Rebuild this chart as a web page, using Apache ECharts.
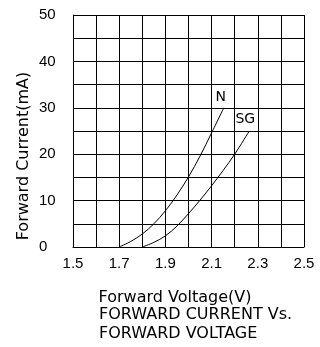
<!DOCTYPE html>
<html>
<head>
<meta charset="utf-8">
<script src="https://cdn.jsdelivr.net/npm/echarts@6/dist/echarts.min.js"></script>
<style>html,body{margin:0;padding:0;background:#fff}#c{width:320px;height:347px}</style>
</head>
<body>
<div id="c"></div>
<script>
// Data
const xTickLabels = ['1.5', '1.7', '1.9', '2.1', '2.3', '2.5'];
const yTickLabels = ['0', '10', '20', '30', '40', '50'];
const seriesNames = ['N', 'SG'];
const nVoltage = [1.70, 1.75, 1.80, 1.85, 1.90, 1.95, 2.00, 2.05, 2.10, 2.153];
const nCurrent = [0, 1.2, 2.8, 5.0, 7.8, 11.2, 15.1, 19.6, 24.6, 30.0];
const sgVoltage = [1.80, 1.85, 1.90, 1.95, 2.00, 2.05, 2.10, 2.15, 2.20, 2.263];
const sgCurrent = [0, 1.0, 2.4, 4.5, 7.2, 10.1, 13.2, 16.5, 20.0, 25.0];

const FONT = 'DejaVu Sans';
const TICKFONT = 'Liberation Sans';

function makeSeries(name, xs, ys, offset) {
  return {
    name: name, type: 'line', smooth: 0.35,
    showSymbol: false, symbol: 'none',
    lineStyle: { color: '#000', width: 1 },
    endLabel: {
      show: true, formatter: name, align: 'center', verticalAlign: 'middle',
      distance: 0, offset: offset, fontFamily: FONT, fontSize: 14, color: '#000'
    },
    data: xs.map((x, i) => [x, ys[i]])
  };
}

const chart = echarts.init(document.getElementById('c'), null, { renderer: 'canvas' });
chart.setOption({
  animation: false,
  backgroundColor: '#fff',
  title: {
    text: 'FORWARD CURRENT Vs.\nFORWARD VOLTAGE',
    left: 99, top: 305, padding: 0,
    textStyle: { fontFamily: FONT, fontSize: 16, fontWeight: 'normal', color: '#000', lineHeight: 19 }
  },
  grid: { left: 73, right: 16, top: 15, bottom: 100, containLabel: false, outerBoundsMode: 'none' },
  xAxis: {
    type: 'value', min: 1.5, max: 2.5, interval: 0.1,
    name: 'Forward Voltage(V)', nameLocation: 'middle', nameGap: 43, nameMoveOverlap: false,
    nameTextStyle: { fontFamily: FONT, fontSize: 16, color: '#000', padding: [0, 27, 0, 0] },
    axisLine: { show: true, lineStyle: { color: '#000', width: 1 } },
    axisTick: { show: false },
    splitLine: { show: true, lineStyle: { color: '#000', width: 1 } },
    axisLabel: {
      margin: 9, fontFamily: TICKFONT, fontSize: 15, color: '#000',
      showMinLabel: true, showMaxLabel: true,
      formatter: v => { const s = v.toFixed(1); return xTickLabels.includes(s) ? s : ''; }
    }
  },
  yAxis: {
    type: 'value', min: 0, max: 50, interval: 5,
    name: 'Forward Current(mA)', nameLocation: 'middle', nameGap: 41, nameMoveOverlap: false,
    nameTextStyle: { fontFamily: FONT, fontSize: 16, color: '#000', padding: [0, 50, 0, 0] },
    axisLine: { show: true, lineStyle: { color: '#000', width: 1 } },
    axisTick: { show: false },
    splitLine: { show: true, lineStyle: { color: '#000', width: 1 } },
    axisLabel: {
      margin: 34, align: 'left', fontFamily: TICKFONT, fontSize: 15, color: '#000',
      showMinLabel: true, showMaxLabel: true,
      formatter: v => { const s = String(Math.round(v)); return yTickLabels.includes(s) ? s : ''; }
    }
  },
  series: [
    makeSeries(seriesNames[0], nVoltage, nCurrent, [-3, -10]),
    makeSeries(seriesNames[1], sgVoltage, sgCurrent, [-4, -12])
  ]
});
</script>
</body>
</html>
